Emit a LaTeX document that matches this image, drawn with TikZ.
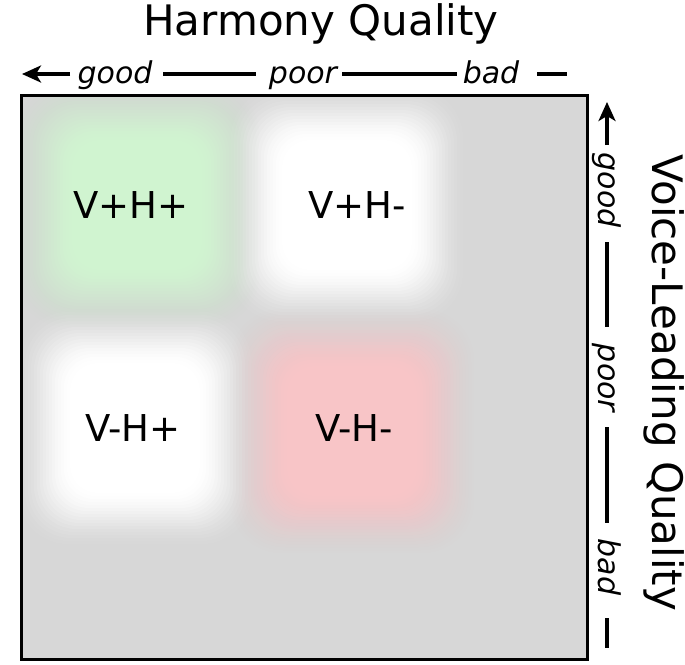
\documentclass[tikz,border=0pt]{standalone}
\usepackage{fontspec}
\setmainfont{DejaVu Sans}[ItalicFont={DejaVu Sans Oblique}]
\usetikzlibrary{arrows.meta}
\definecolor{bggray}{HTML}{D7D7D7}
\definecolor{vgreen}{HTML}{D0F4D0}
\definecolor{vred}{HTML}{F8C5C7}
\definecolor{vwhite}{HTML}{FFFFFF}
% blurred rounded square: cx, cy, half size, colour (smoothstep ramp)
\newcommand{\blurbox}[4]{%
  \foreach \i in {0,...,19}{%
    \pgfmathsetmacro{\hh}{#3+30-3*\i}%
    \pgfmathsetmacro{\ta}{\i/20}%
    \pgfmathsetmacro{\tb}{(\i+1)/20}%
    \pgfmathsetmacro{\ca}{3*\ta*\ta-2*\ta*\ta*\ta}%
    \pgfmathsetmacro{\cb}{3*\tb*\tb-2*\tb*\tb*\tb}%
    \pgfmathsetmacro{\op}{(\cb-\ca)/(1-\ca)}%
    \pgfmathsetmacro{\rr}{0.42*\hh}%
    \fill[#4, fill opacity=\op, rounded corners=\rr pt]
      ({#1-\hh},{#2-\hh}) rectangle ({#1+\hh},{#2+\hh});
  }%
}
\tikzset{
  axline/.style={line width=3.2pt, black},
  axlbl/.style={font=\fontsize{30}{33}\selectfont\itshape, inner sep=0pt},
  cell/.style={font=\fontsize{37}{40}\selectfont, inner sep=0pt, anchor=base},
  ttl/.style={font=\fontsize{42}{46}\selectfont, inner sep=0pt, anchor=base},
  tip/.style={-{Stealth[length=19pt,width=17pt,inset=5pt]}}
}
\begin{document}
\begin{tikzpicture}[x=1pt,y=-1pt]
\useasboundingbox (0,0) rectangle (685,664);
% panel
\begin{scope}
  \clip (21,95) rectangle (587,659);
  \fill[bggray] (21,95) rectangle (587,659);
  \blurbox{137}{205}{92}{vgreen}
  \blurbox{347}{205}{92}{vwhite}
  \blurbox{135}{428}{92}{vwhite}
  \blurbox{352}{431}{92}{vred}
\end{scope}
\draw[line width=3pt] (21,95) rectangle (587,659);
% cell labels
\node[cell] (vphp) at (131,218) {V+H+};
\node[cell] (vphm) at (357,218) {V+H-};
\node[cell] (vmhp) at (133,441) {V-H+};
\node[cell] (vmhm) at (354,441) {V-H-};
% titles
\node[ttl] (htitle) at (321,35) {Harmony Quality};
\node[ttl, rotate=-90] (vtitle) at (652,383) {Voice-Leading Quality};
% top axis
\node[axlbl, anchor=base] (hgood) at (115,83) {good};
\node[axlbl, anchor=base] (hpoor) at (303,83) {poor};
\node[axlbl, anchor=base] (hbad) at (491,83) {bad};
\coordinate (ha0) at (22,74);
\coordinate (ha1) at (70,74);
\coordinate (hb0) at (163,74);
\coordinate (hb1) at (256,74);
\coordinate (hc0) at (342,74);
\coordinate (hc1) at (457,74);
\coordinate (hd0) at (537,74);
\coordinate (hd1) at (567,74);
\draw[axline, tip] (ha1) -- (ha0);
\draw[axline] (hb0) -- (hb1);
\draw[axline] (hc0) -- (hc1);
\draw[axline] (hd0) -- (hd1);
% right axis
\node[axlbl, rotate=-90, anchor=base] (vgood) at (598,190) {good};
\node[axlbl, rotate=-90, anchor=base] (vpoor) at (598,378) {poor};
\node[axlbl, rotate=-90, anchor=base] (vbad) at (598,567) {bad};
\coordinate (va0) at (607,102);
\coordinate (va1) at (607,145);
\coordinate (vb0) at (607,242);
\coordinate (vb1) at (607,327);
\coordinate (vc0) at (607,427);
\coordinate (vc1) at (607,523);
\coordinate (vd0) at (607,618);
\coordinate (vd1) at (607,648);
\draw[axline, tip] (va1) -- (va0);
\draw[axline] (vb0) -- (vb1);
\draw[axline] (vc0) -- (vc1);
\draw[axline] (vd0) -- (vd1);
\end{tikzpicture}
\end{document}
